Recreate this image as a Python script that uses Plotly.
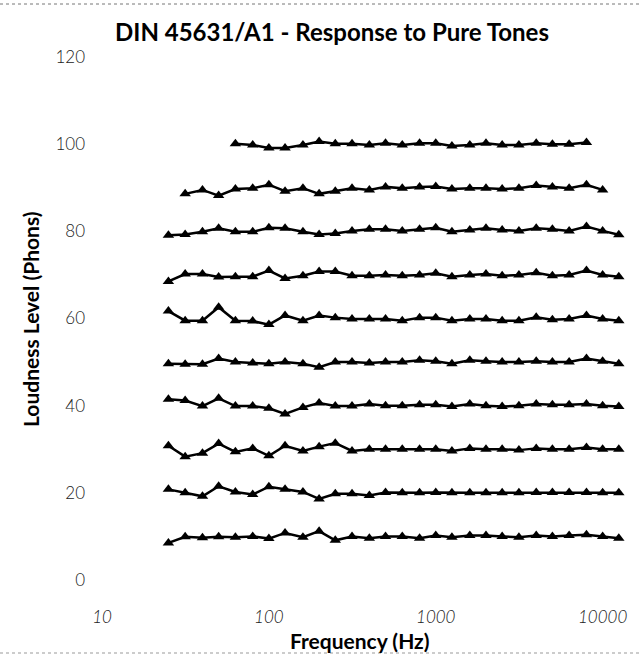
import plotly.graph_objects as go

# 1/3-octave band centre frequencies (Hz)
freqs = [25, 31.5, 40, 50, 63, 80, 100, 125, 160, 200, 250, 315, 400, 500, 630,
         800, 1000, 1250, 1600, 2000, 2500, 3150, 4000, 5000, 6300, 8000, 10000, 12500]

phon10 = [8.5, 9.9, 9.7, 9.9, 9.8, 10.0, 9.5, 10.8, 9.8, 11.2, 9.1, 10.0,
          9.6, 10.0, 10.0, 9.6, 10.2, 9.8, 10.2, 10.2, 10.0, 9.8, 10.2, 10.0, 10.2, 10.4, 10.0, 9.6]
phon20 = [20.8, 20.0, 19.2, 21.5, 20.2, 19.6, 21.4, 20.8, 20.2, 18.6, 19.8, 19.8,
          19.4, 20.1, 20.0, 20.0, 20.1, 20.0, 20.0, 20.0, 20.0, 20.0, 20.1, 20.1, 20.1, 20.1, 20.0, 20.0]
phon30 = [30.8, 28.3, 29.1, 31.3, 29.4, 30.2, 28.5, 30.8, 29.6, 30.6, 31.4, 29.6,
          30.0, 30.0, 30.0, 30.0, 30.0, 29.6, 30.2, 30.0, 30.0, 29.8, 30.2, 30.0, 30.0, 30.4, 30.0, 30.0]
phon40 = [41.5, 41.2, 39.9, 41.7, 39.9, 39.9, 39.4, 38.1, 39.6, 40.6, 39.9, 39.9,
          40.4, 40.0, 40.0, 40.2, 40.2, 39.8, 40.4, 40.0, 39.8, 40.0, 40.4, 40.2, 40.2, 40.4, 40.0, 39.8]
phon50 = [49.6, 49.5, 49.5, 50.8, 50.0, 49.8, 49.6, 50.0, 49.6, 48.8, 50.0, 50.0,
          49.8, 50.0, 50.0, 50.4, 50.2, 49.6, 50.4, 50.2, 50.0, 50.0, 50.2, 50.0, 50.0, 50.8, 50.2, 49.6]
phon60 = [61.7, 59.5, 59.5, 62.6, 59.5, 59.4, 58.6, 60.7, 59.5, 60.7, 60.2, 59.9,
          59.9, 59.9, 59.5, 60.2, 60.2, 59.5, 59.9, 59.9, 59.5, 59.5, 60.3, 59.7, 59.9, 60.7, 59.9, 59.5]
phon70 = [68.5, 70.2, 70.2, 69.5, 69.6, 69.6, 71.0, 69.2, 69.8, 70.8, 70.8, 69.8,
          69.8, 70.0, 69.8, 70.0, 70.4, 69.6, 70.0, 70.2, 69.8, 70.0, 70.5, 69.8, 70.0, 71.0, 70.0, 69.6]
phon80 = [79.1, 79.3, 79.9, 80.7, 79.9, 79.9, 80.8, 80.7, 79.9, 79.3, 79.5, 80.1,
          80.5, 80.5, 80.1, 80.5, 80.8, 79.9, 80.3, 80.7, 80.3, 80.1, 80.7, 80.5, 80.1, 81.1, 80.1, 79.2]
# 90 phon: 31.5 Hz .. 10 kHz
freqs90 = freqs[1:27]
phon90 = [88.6, 89.5, 88.2, 89.7, 89.9, 90.7, 89.2, 89.9, 88.6, 89.2, 89.9,
          89.5, 90.2, 89.9, 90.2, 90.3, 89.7, 89.9, 89.9, 89.7, 89.9, 90.5, 90.2, 89.9, 90.7, 89.5]
# 100 phon: 63 Hz .. 8 kHz
freqs100 = freqs[4:26]
phon100 = [100.1, 99.8, 99.1, 99.1, 99.8, 100.6, 100.1, 100.1,
           99.8, 100.2, 99.8, 100.2, 100.2, 99.6, 99.8, 100.2, 99.8, 99.8, 100.2, 100.0, 100.0, 100.4]

series = [
    ("10 phon", freqs, phon10), ("20 phon", freqs, phon20), ("30 phon", freqs, phon30),
    ("40 phon", freqs, phon40), ("50 phon", freqs, phon50), ("60 phon", freqs, phon60),
    ("70 phon", freqs, phon70), ("80 phon", freqs, phon80), ("90 phon", freqs90, phon90),
    ("100 phon", freqs100, phon100),
]

x_tickvals = [10, 100, 1000, 10000]
x_ticktext = ["10", "100", "1000", "10000"]
y_tickvals = [0, 20, 40, 60, 80, 100, 120]

title_text = "DIN 45631/A1 - Response to Pure Tones"
x_title = "Frequency (Hz)"
y_title = "Loudness Level (Phons)"

fig = go.Figure()
for name, fx, fy in series:
    fig.add_trace(go.Scatter(
        x=fx, y=fy, name=name, mode="lines+markers",
        line=dict(color="black", width=2.5),
        marker=dict(symbol="triangle-up", size=10, color="black"),
        showlegend=False,
    ))

W, H = 641, 656
L, R, T, B = 102, 5, 57, 76
pw, ph = W - L - R, H - T - B

y_tick_font = dict(family="Lato", size=17, color="#222222", weight=300)
x_tick_font = dict(family="Lato", size=17, color="#222222", weight=300, style="italic")

fig.update_layout(
    width=W, height=H,
    margin=dict(l=L, r=R, t=T, b=B),
    paper_bgcolor="white", plot_bgcolor="white",
    title=dict(text=title_text, x=332 / W, xanchor="center", xref="container",
               y=1 - 33 / H, yanchor="middle", yref="container",
               font=dict(family="Lato", size=24, color="black", weight="bold")),
    xaxis=dict(type="log", range=[1, 4.2], tickvals=x_tickvals, ticktext=x_ticktext,
               showgrid=False, zeroline=False, showline=False, ticks="",
               tickfont=x_tick_font, ticklabelstandoff=25),
    yaxis=dict(range=[0, 120], tickvals=y_tickvals, showgrid=False, zeroline=False,
               showline=False, ticks="", tickfont=y_tick_font, ticklabelstandoff=16),
    annotations=[
        dict(text=x_title, xref="paper", yref="paper", x=(360 - L) / pw, y=(580 - 640) / ph,
             xanchor="center", yanchor="middle", showarrow=False,
             font=dict(family="Lato", size=21, color="black", weight="bold")),
        dict(text=y_title, xref="paper", yref="paper", x=(30 - L) / pw, y=(580 - 320) / ph,
             xanchor="center", yanchor="middle", showarrow=False, textangle=-90,
             font=dict(family="Lato", size=21, color="black", weight="bold")),
    ],
    shapes=[
        dict(type="line", xref="paper", yref="paper", x0=-L / pw, x1=(W - L) / pw,
             y0=(580 - 4) / ph, y1=(580 - 4) / ph, line=dict(color="#777777", width=1, dash="dot")),
        dict(type="line", xref="paper", yref="paper", x0=-L / pw, x1=(W - L) / pw,
             y0=(580 - 653) / ph, y1=(580 - 653) / ph, line=dict(color="#999999", width=1, dash="dot")),
    ],
)

fig.write_html("out.html")
